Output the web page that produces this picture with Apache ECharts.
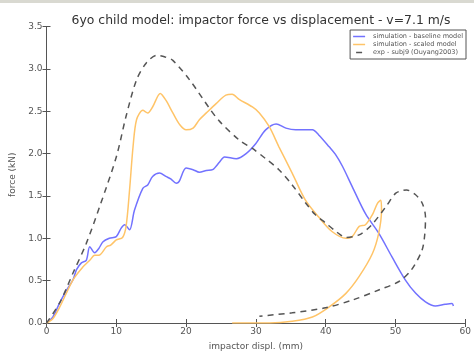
<!DOCTYPE html>
<html>
<head>
<meta charset="utf-8">
<script src="https://cdn.jsdelivr.net/npm/echarts@6/dist/echarts.min.js"></script>
<style>
html,body{margin:0;padding:0;background:#fff;}
#c{width:474px;height:361px;}
</style>
</head>
<body>
<div id="c"></div>
<script>
const titleText = '6yo child model: impactor force vs displacement - v=7.1 m/s';
const xName = 'impactor displ. (mm)';
const yName = 'force (kN)';
const seriesNames = ['simulation - baseline model', 'simulation - scaled model', 'exp - subj9 (Ouyang2003)'];

const baselineX = [0,0.9,1.9,2.9,3.8,4.3,5.0,5.7,6.2,6.9,7.5,8.1,9.0,10.0,10.7,11.2,11.9,12.6,13.8,14.5,15.2,16.2,17.1,17.8,18.6,19.0,20.0,21.0,21.9,22.9,23.8,24.8,25.5,27.2,28.6,30.0,31.4,32.9,34.3,35.7,38.1,39.0,40.5,41.4,42.4,43.8,45.7,47.6,49.5,51.4,52.9,54.3,55.7,57.1,58.1,58.3];
const baselineY = [0,0.07,0.24,0.39,0.51,0.63,0.71,0.74,0.9,0.83,0.88,0.96,1.0,1.02,1.12,1.16,1.1,1.33,1.59,1.63,1.73,1.77,1.73,1.7,1.65,1.67,1.83,1.81,1.78,1.8,1.81,1.9,1.96,1.94,2.0,2.12,2.28,2.35,2.3,2.28,2.28,2.22,2.08,1.99,1.85,1.61,1.29,1.06,0.78,0.51,0.35,0.25,0.2,0.22,0.23,0.2];

const scaledX = [0,0.9,1.9,3.8,5.2,6.2,6.9,7.5,8.6,9.2,10.0,10.9,11.4,11.9,12.4,12.9,13.8,14.5,15.2,16.3,17.1,18.1,19.1,20.0,21.0,21.9,22.9,24.3,25.7,26.6,27.6,29.5,30.5,31.9,33.3,35.2,37.1,39.0,40.9,42.9,43.8,44.8,45.7,46.7,47.4,47.9,48.0,47.6,46.7,44.8,42.9,40.5,38.1,35.2,32.0,26.6];
const scaledY = [0,0.05,0.19,0.51,0.66,0.74,0.8,0.8,0.9,0.92,0.98,1.01,1.14,1.57,2.08,2.4,2.51,2.48,2.55,2.71,2.63,2.48,2.34,2.28,2.3,2.4,2.48,2.59,2.69,2.7,2.64,2.55,2.48,2.32,2.08,1.77,1.45,1.25,1.08,1.0,1.02,1.14,1.16,1.28,1.41,1.45,1.33,1.06,0.82,0.55,0.35,0.19,0.07,0.02,0,0];

const expX = [0,1.9,3.8,5.7,7.6,10.0,11.4,12.9,14.3,15.8,17.0,18.1,20.5,23.3,24.8,27.6,29.5,31.4,33.3,35.2,37.1,38.5,40.0,41.5,42.9,44.8,46.6,48.6,50.0,50.8,51.6,52.8,53.8,54.3,54.2,53.8,52.3,50.5,47.6,43.8,40.0,35.2,30.5];
const expY = [0,0.24,0.59,0.94,1.37,1.96,2.44,2.87,3.07,3.16,3.14,3.1,2.87,2.54,2.38,2.16,2.06,1.94,1.81,1.63,1.42,1.28,1.18,1.08,1.01,1.04,1.16,1.37,1.53,1.56,1.57,1.52,1.42,1.25,1.05,0.86,0.63,0.49,0.39,0.27,0.18,0.12,0.08];

const xTicks = [0,10,20,30,40,50,60];
const yTicks = [0,0.5,1.0,1.5,2.0,2.5,3.0,3.5];

function pairs(xs, ys){ return xs.map((x,i)=>[x, ys[i]]); }

const chart = echarts.init(document.getElementById('c'), null, {renderer:'canvas'});
const axisLine = {show:true, lineStyle:{color:'#555', width:1}};
const tickStyle = {show:true, inside:true, length:4, lineStyle:{color:'#555'}};
const labelStyle = {color:'#555', fontSize:9, fontFamily:'DejaVu Sans'};
chart.setOption({
  backgroundColor:'#ffffff',
  animation:false,
  graphic:[{type:'rect', left:0, top:0, shape:{width:474, height:3}, style:{fill:'#d9d9d1'}}],
  title:{text:titleText, left:256, top:10, textAlign:'center',
    textStyle:{fontSize:12.4, fontWeight:'normal', color:'#333', fontFamily:'DejaVu Sans'}},
  grid:{left:46.5, right:7.5, top:26.5, bottom:38, containLabel:false},
  legend:{
    right:8, top:30, orient:'vertical', itemGap:1, itemWidth:12, itemHeight:1.5,
    padding:[3,3,3,3], borderColor:'#555', borderWidth:1, backgroundColor:'#fff',
    textStyle:{fontSize:6.5, color:'#555', fontFamily:'DejaVu Sans', padding:[0,0,0,3]},
    data:[
      {name:seriesNames[0], icon:'rect'},
      {name:seriesNames[1], icon:'rect'},
      {name:seriesNames[2], icon:'path://M3,0H7V1H3Z'}
    ]
  },
  xAxis:[{type:'value', min:0, max:60, interval:10,
    name:xName, nameLocation:'middle', nameGap:19,
    nameTextStyle:{color:'#555', fontSize:9, fontFamily:'DejaVu Sans'},
    axisLine:axisLine, axisTick:tickStyle, axisLabel:Object.assign({margin:4},labelStyle), splitLine:{show:false}},
    {type:'value', min:0, max:60, interval:10, position:'top', axisLine:axisLine, axisTick:tickStyle, axisLabel:{show:false}, splitLine:{show:false}}],
  yAxis:[{type:'value', min:0, max:3.5, interval:0.5,
    name:yName, nameLocation:'middle', nameGap:24,
    nameTextStyle:{color:'#555', fontSize:9, fontFamily:'DejaVu Sans'},
    axisLine:axisLine, axisTick:tickStyle,
    axisLabel:Object.assign({margin:4, formatter:v=>v.toFixed(1)},labelStyle), splitLine:{show:false}},
    {type:'value', min:0, max:3.5, interval:0.5, position:'right', axisLine:axisLine, axisTick:tickStyle, axisLabel:{show:false}, splitLine:{show:false}}],
  series:[
    {name:seriesNames[0], type:'line', data:pairs(baselineX, baselineY), showSymbol:false, smooth:0.3,
      lineStyle:{color:'#7272ff', width:1.5}, itemStyle:{color:'#7272ff'}},
    {name:seriesNames[1], type:'line', data:pairs(scaledX, scaledY), showSymbol:false, smooth:0.3,
      lineStyle:{color:'#ffc468', width:1.5}, itemStyle:{color:'#ffc468'}},
    {name:seriesNames[2], type:'line', data:pairs(expX, expY), showSymbol:false, smooth:0.3,
      lineStyle:{color:'#555', width:1.5, type:[6,5]}, itemStyle:{color:'#555'}}
  ]
});
</script>
</body>
</html>
